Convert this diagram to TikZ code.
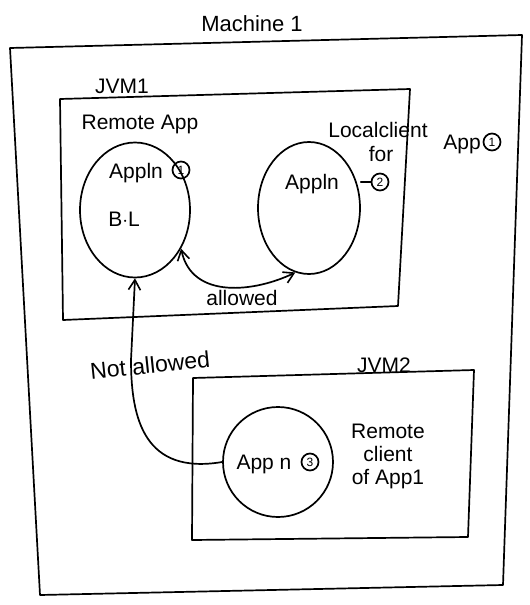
\documentclass[tikz,border=0pt]{standalone}
\usepackage{fontspec}
\setmainfont{Liberation Sans}
\usetikzlibrary{shapes.geometric,arrows.meta}
\begin{document}
\begin{tikzpicture}[x=1pt,y=-1pt,
  ink/.style={line width=1.7pt,black,line cap=round,line join=round},
  appcircle/.style={ink,draw,shape=ellipse,inner sep=0pt},
  lbl/.style={font=\fontsize{21}{23}\selectfont,inner sep=1pt},
  num/.style={ink,draw,circle,inner sep=0pt,minimum size=17pt,font=\fontsize{12}{13}\selectfont},
  tip/.style={-{Straight Barb[length=10pt,width=12pt,line width=1.6pt]}}
]
\useasboundingbox (0,0) rectangle (530,605);
\fill[white] (0,0) rectangle (530,605);
% outer machine box
\draw[ink] (10,48) -- (522,35) -- (503,585) -- (40,595) -- cycle;
\node[lbl,font=\fontsize{22}{24}\selectfont] (mtitle) at (252,24) {Machine 1};
% JVM1 box
\draw[ink] (60,99) -- (410,89) -- (398,306) -- (63,320) -- cycle;
\node[lbl] (jvm1) at (122,86) {JVM1};
\node[lbl] (remote) at (140,124) {Remote App};
% left app
\node[appcircle,minimum width=110pt,minimum height=135pt] (L) at (135,210) {};
\node[lbl] (appln1) at (136,173) {Appln};
\node[num] (n1) at (181,170) {1};
\node[lbl] (bl) at (124,219) {B$\cdot$L};
% right app
\node[appcircle,minimum width=102pt,minimum height=132pt] (R) at (309,208) {};
\node[lbl] (appln2) at (312,184) {Appln};
\node[num] (n2) at (380,182) {2};
\draw[ink] (R.east |- n2) -- (n2);
\node[lbl] (local) at (378,130) {Localclient};
\node[lbl] (for) at (381,154) {for};
\node[lbl,anchor=east] (app1a) at (482,144) {App};
\node[num] (n1b) at (492,142) {1};
% allowed arrow
\draw[ink,{Straight Barb[length=10pt,width=12pt,line width=1.6pt]}-{Straight Barb[length=10pt,width=12pt,line width=1.6pt]}]
  (L.-40) .. controls (192,300) and (255,292) .. (R.-102);
\node[lbl] (allowed) at (242,298) {allowed};
% JVM2 box
\draw[ink] (193,378) -- (474,370) -- (468,537) -- (192,540) -- cycle;
\node[lbl] (jvm2) at (384,365) {JVM2};
\node[appcircle,minimum width=110pt,minimum height=110pt] (A3) at (278,462) {};
\node[lbl] (appn3) at (264,464) {App n};
\node[num] (n3) at (310,462) {3};
\node[lbl,align=center] (rc) at (388,456) {Remote\\client\\of App1};
% not allowed arrow
\draw[ink,tip] (A3.west) .. controls (145,475) and (131,420) .. (131,360) -- (L.south);
\node[lbl,rotate=6,font=\fontsize{23}{25}\selectfont] (notallowed) at (150,365) {Not allowed};
\end{tikzpicture}
\end{document}
